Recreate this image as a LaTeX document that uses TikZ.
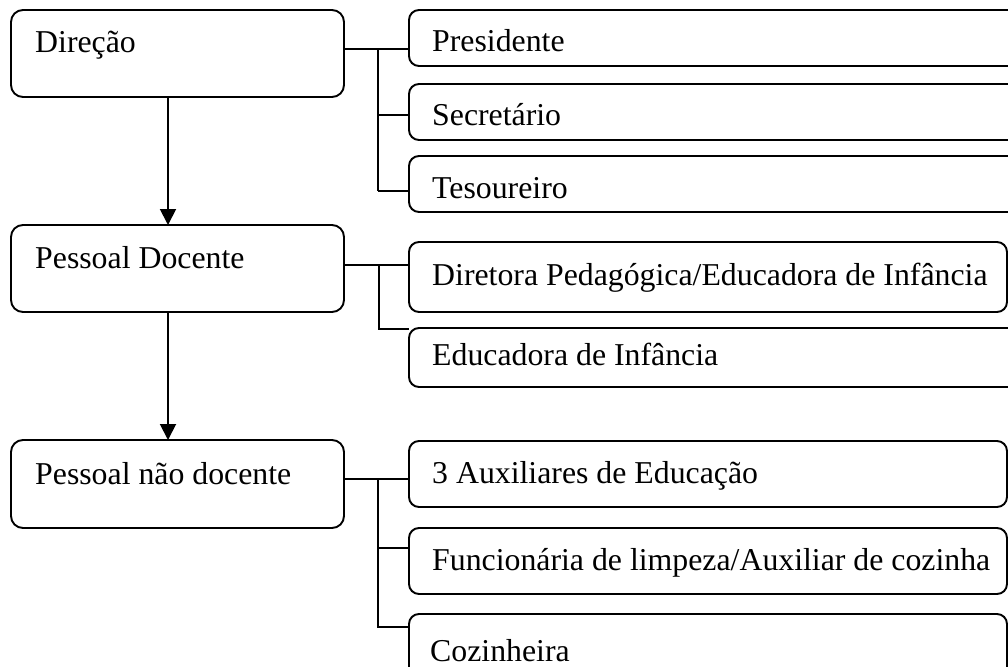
\documentclass[tikz,border=0pt]{standalone}
\usepackage{fontspec}
\setmainfont{Liberation Serif}
\usetikzlibrary{arrows.meta}
\begin{document}
\begin{tikzpicture}[x=1pt,y=-1pt,
  bigbox/.style={draw,line width=1.9pt,rounded corners=12pt,inner sep=0pt,outer sep=0pt,minimum width=333pt},
  smallbox/.style={draw,line width=1.9pt,rounded corners=10pt,inner sep=0pt,outer sep=0pt},
  lbl/.style={anchor=base west,inner sep=0pt,font=\fontsize{31.8}{36}\selectfont},
  conn/.style={line width=1.9pt},
  arr/.style={line width=1.9pt,-{Triangle[length=16pt,width=16pt]}}]
\useasboundingbox (0,0) rectangle (1008,666);
\clip (0,0) rectangle (1008,666);
% left boxes
\node[bigbox,minimum height=87pt] (dir) at (177.5,53.5) {};
\node[bigbox,minimum height=87pt] (doc) at (177.5,268.5) {};
\node[bigbox,minimum height=88pt] (ndoc) at (177.5,484) {};
% right boxes
\node[smallbox,minimum width=611pt,minimum height=56pt] (pres) at (714.5,38) {};
\node[smallbox,minimum width=611pt,minimum height=56pt] (sec) at (714.5,112) {};
\node[smallbox,minimum width=611pt,minimum height=56pt] (tes) at (714.5,184) {};
\node[smallbox,minimum width=598pt,minimum height=70pt] (dirp) at (708,277) {};
\node[smallbox,minimum width=611pt,minimum height=59pt] (educ) at (714.5,357.5) {};
\node[smallbox,minimum width=598pt,minimum height=66pt] (aux) at (708,474) {};
\node[smallbox,minimum width=598pt,minimum height=66pt] (func) at (708,561) {};
\node[smallbox,minimum width=598pt,minimum height=86pt] (coz) at (708,657) {};
% labels
\node[lbl] (tdir) at (35,53) {Direção};
\node[lbl] (tdoc) at (35,268) {Pessoal Docente};
\node[lbl] (tndoc) at (35,484) {Pessoal não docente};
\node[lbl] (tpres) at (432,52) {Presidente};
\node[lbl] (tsec) at (432,125) {Secretário};
\node[lbl] (ttes) at (432,198) {Tesoureiro};
\node[lbl] (tdirp) at (432,285) {Diretora Pedagógica/Educadora de Infância};
\node[lbl] (teduc) at (432,365) {Educadora de Infância};
\node[lbl] (taux) at (432,483) {3 Auxiliares de Educação};
\node[lbl] (tfunc) at (432,570) {Funcionária de limpeza/Auxiliar de cozinha};
\node[lbl] (tcoz) at (430,661) {Cozinheira};
% junction coordinates
\coordinate (j1) at (378,49);
\coordinate (j2) at (378,115);
\coordinate (j3) at (378,191);
\coordinate (k1) at (379,265);
\coordinate (k2) at (379,329);
\coordinate (m1) at (378,479);
\coordinate (m2) at (378,548);
\coordinate (m3) at (378,627);
% connectors
\draw[conn] (dir.east |- j1) -- (j1) -- (pres.west |- j1);
\draw[conn] (j1) -- (j3);
\draw[conn] (j2) -- (sec.west |- j2);
\draw[conn] (j3) -- (tes.west |- j3);
\draw[conn] (doc.east |- k1) -- (k1) -- (dirp.west |- k1);
\draw[conn] (k1) -- (k2) -- (educ.west |- k2);
\draw[conn] (ndoc.east |- m1) -- (m1) -- (aux.west |- m1);
\draw[conn] (m1) -- (m3) -- (coz.west |- m3);
\draw[conn] (m2) -- (func.west |- m2);
% arrows
\draw[arr] (dir.south -| 168,0) -- (doc.north -| 168,0);
\draw[arr] (doc.south -| 168,0) -- (ndoc.north -| 168,0);
\end{tikzpicture}
\end{document}
